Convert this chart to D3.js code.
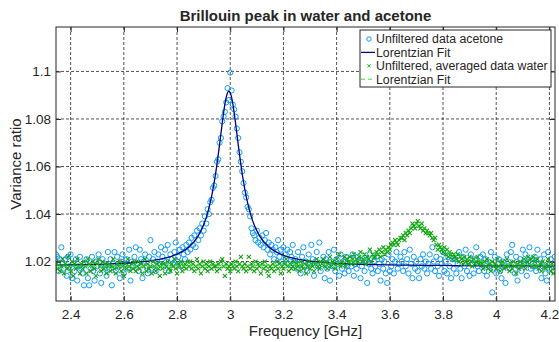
<!DOCTYPE html>
<html>
<head>
<meta charset="utf-8">
<script src="https://cdn.jsdelivr.net/npm/d3@7"></script>
<style>
  body { margin: 0; background: #fff; }
  text { font-family: "Liberation Sans", Arial, Helvetica, sans-serif; fill: #262626; }
</style>
</head>
<body>
<div id="chart"></div>
<script>
// sample frequencies in GHz (same grid for both measurements)
const freqGHz = [
  2.345,2.350,2.355,2.360,2.365,2.370,2.375,2.380,2.385,2.390,2.395,2.400,2.405,2.410,2.415,2.420,2.425,2.430,2.435,2.440,
  2.445,2.450,2.455,2.460,2.465,2.470,2.475,2.480,2.485,2.490,2.495,2.500,2.505,2.510,2.515,2.520,2.525,2.530,2.535,2.540,
  2.545,2.550,2.555,2.560,2.565,2.570,2.575,2.580,2.585,2.590,2.595,2.600,2.605,2.610,2.615,2.620,2.625,2.630,2.635,2.640,
  2.645,2.650,2.655,2.660,2.665,2.670,2.675,2.680,2.685,2.690,2.695,2.700,2.705,2.710,2.715,2.720,2.725,2.730,2.735,2.740,
  2.745,2.750,2.755,2.760,2.765,2.770,2.775,2.780,2.785,2.790,2.795,2.800,2.805,2.810,2.815,2.820,2.825,2.830,2.835,2.840,
  2.845,2.850,2.855,2.860,2.865,2.870,2.875,2.880,2.885,2.890,2.895,2.900,2.905,2.910,2.915,2.920,2.925,2.930,2.935,2.940,
  2.945,2.950,2.955,2.960,2.965,2.970,2.975,2.980,2.985,2.990,2.995,3.000,3.005,3.010,3.015,3.020,3.025,3.030,3.035,3.040,
  3.045,3.050,3.055,3.060,3.065,3.070,3.075,3.080,3.085,3.090,3.095,3.100,3.105,3.110,3.115,3.120,3.125,3.130,3.135,3.140,
  3.145,3.150,3.155,3.160,3.165,3.170,3.175,3.180,3.185,3.190,3.195,3.200,3.205,3.210,3.215,3.220,3.225,3.230,3.235,3.240,
  3.245,3.250,3.255,3.260,3.265,3.270,3.275,3.280,3.285,3.290,3.295,3.300,3.305,3.310,3.315,3.320,3.325,3.330,3.335,3.340,
  3.345,3.350,3.355,3.360,3.365,3.370,3.375,3.380,3.385,3.390,3.395,3.400,3.405,3.410,3.415,3.420,3.425,3.430,3.435,3.440,
  3.445,3.450,3.455,3.460,3.465,3.470,3.475,3.480,3.485,3.490,3.495,3.500,3.505,3.510,3.515,3.520,3.525,3.530,3.535,3.540,
  3.545,3.550,3.555,3.560,3.565,3.570,3.575,3.580,3.585,3.590,3.595,3.600,3.605,3.610,3.615,3.620,3.625,3.630,3.635,3.640,
  3.645,3.650,3.655,3.660,3.665,3.670,3.675,3.680,3.685,3.690,3.695,3.700,3.705,3.710,3.715,3.720,3.725,3.730,3.735,3.740,
  3.745,3.750,3.755,3.760,3.765,3.770,3.775,3.780,3.785,3.790,3.795,3.800,3.805,3.810,3.815,3.820,3.825,3.830,3.835,3.840,
  3.845,3.850,3.855,3.860,3.865,3.870,3.875,3.880,3.885,3.890,3.895,3.900,3.905,3.910,3.915,3.920,3.925,3.930,3.935,3.940,
  3.945,3.950,3.955,3.960,3.965,3.970,3.975,3.980,3.985,3.990,3.995,4.000,4.005,4.010,4.015,4.020,4.025,4.030,4.035,4.040,
  4.045,4.050,4.055,4.060,4.065,4.070,4.075,4.080,4.085,4.090,4.095,4.100,4.105,4.110,4.115,4.120,4.125,4.130,4.135,4.140,
  4.145,4.150,4.155,4.160,4.165,4.170,4.175,4.180,4.185,4.190,4.195,4.200,4.205,4.210,4.215,4.220
];

// variance ratio, acetone (unfiltered)
const acetoneRatio = [
  1.023,1.022,1.016,1.021,1.026,1.019,1.017,1.021,1.014,1.022,1.018,1.023,1.013,1.019,1.016,1.021,1.012,1.018,1.022,1.017,
  1.015,1.010,1.019,1.021,1.013,1.010,1.017,1.022,1.016,1.012,1.020,1.018,1.023,1.015,1.011,1.021,1.019,1.017,1.014,1.024,
  1.017,1.021,1.010,1.019,1.024,1.016,1.022,1.018,1.013,1.020,1.023,1.015,1.019,1.021,1.017,1.025,1.012,1.020,1.018,1.022,
  1.026,1.019,1.016,1.025,1.021,1.013,1.020,1.023,1.018,1.015,1.022,1.029,1.017,1.021,1.024,1.016,1.020,1.023,1.019,1.026,
  1.022,1.018,1.025,1.020,1.027,1.016,1.023,1.021,1.019,1.024,1.028,1.020,1.022,1.025,1.018,1.026,1.023,1.021,1.027,1.024,
  1.028,1.025,1.030,1.027,1.031,1.026,1.033,1.029,1.034,1.031,1.036,1.033,1.039,1.036,1.042,1.040,1.045,1.046,1.051,1.052,
  1.056,1.062,1.063,1.070,1.072,1.079,1.081,1.083,1.087,1.093,1.088,1.0995,1.092,1.086,1.084,1.081,1.076,1.072,1.066,1.062,
  1.058,1.053,1.049,1.047,1.043,1.042,1.039,1.034,1.032,1.031,1.029,1.033,1.028,1.030,1.027,1.031,1.026,1.029,1.032,1.025,
  1.028,1.023,1.027,1.025,1.021,1.026,1.024,1.029,1.022,1.025,1.020,1.026,1.023,1.021,1.025,1.019,1.024,1.022,1.027,1.020,
  1.021,1.017,1.024,1.019,1.015,1.022,1.026,1.018,1.020,1.016,1.023,1.019,1.027,1.021,1.014,1.020,1.024,1.018,1.028,1.016,
  1.019,1.022,1.013,1.021,1.017,1.024,1.012,1.020,1.018,1.025,1.016,1.021,1.019,1.014,1.023,1.017,1.020,1.015,1.022,1.018,
  1.016,1.021,1.018,1.023,1.014,1.019,1.017,1.022,1.020,1.013,1.018,1.021,1.016,1.020,1.011,1.019,1.023,1.017,1.015,1.020,
  1.018,1.022,1.016,1.019,1.012,1.021,1.017,1.020,1.015,1.011,1.023,1.016,1.018,1.021,1.015,1.020,1.024,1.017,1.019,1.022,
  1.020,1.016,1.024,1.018,1.021,1.015,1.025,1.019,1.013,1.022,1.017,1.020,1.016,1.013,1.021,1.018,1.023,1.017,1.020,1.015,
  1.019,1.023,1.017,1.026,1.020,1.016,1.022,1.018,1.014,1.021,1.019,1.024,1.016,1.020,1.015,1.022,1.018,1.013,1.021,1.017,
  1.021,1.015,1.019,1.024,1.017,1.013,1.022,1.018,1.025,1.016,1.020,1.014,1.023,1.019,1.015,1.021,1.026,1.018,1.016,1.022,
  1.019,1.023,1.016,1.021,1.014,1.020,1.018,1.024,1.007,1.017,1.022,1.015,1.019,1.021,1.016,1.013,1.020,1.018,1.011,1.023,
  1.020,1.017,1.024,1.027,1.019,1.015,1.022,1.012,1.018,1.021,1.016,1.025,1.019,1.023,1.014,1.020,1.026,1.017,1.021,1.018,
  1.022,1.016,1.025,1.019,1.021,1.013,1.018,1.023,1.015,1.012,1.024,1.017,1.021,1.019,1.016,1.022
];

// variance ratio, water (unfiltered, averaged)
const waterRatio = [
  1.019,1.017,1.020,1.016,1.018,1.021,1.015,1.019,1.017,1.022,1.018,1.016,1.020,1.014,1.019,1.017,1.021,1.018,1.015,1.019,
  1.017,1.020,1.018,1.015,1.021,1.019,1.016,1.018,1.020,1.017,1.014,1.019,1.021,1.018,1.016,1.020,1.017,1.019,1.015,1.018,
  1.019,1.016,1.018,1.021,1.017,1.015,1.019,1.018,1.020,1.016,1.018,1.014,1.019,1.017,1.021,1.018,1.016,1.019,1.017,1.020,
  1.016,1.018,1.020,1.017,1.019,1.015,1.018,1.021,1.016,1.019,1.017,1.018,1.015,1.020,1.018,1.016,1.019,1.017,1.014,1.019,
  1.017,1.019,1.015,1.018,1.020,1.017,1.016,1.019,1.018,1.021,1.017,1.015,1.019,1.018,1.020,1.016,1.018,1.019,1.017,1.020,
  1.018,1.020,1.017,1.019,1.016,1.018,1.021,1.017,1.019,1.015,1.018,1.020,1.017,1.019,1.016,1.018,1.020,1.017,1.019,1.018,
  1.018,1.016,1.019,1.017,1.020,1.021,1.018,1.014,1.019,1.017,1.018,1.016,1.019,1.018,1.017,1.020,1.018,1.016,1.019,1.022,
  1.018,1.017,1.019,1.016,1.018,1.022,1.017,1.019,1.018,1.016,1.020,1.017,1.019,1.018,1.015,1.019,1.017,1.020,1.018,1.016,
  1.014,1.018,1.017,1.019,1.016,1.018,1.020,1.017,1.019,1.015,1.018,1.017,1.019,1.021,1.018,1.016,1.019,1.017,1.018,1.020,
  1.017,1.019,1.018,1.016,1.020,1.018,1.017,1.019,1.015,1.018,1.020,1.017,1.019,1.018,1.016,1.019,1.021,1.018,1.017,1.020,
  1.019,1.021,1.018,1.020,1.017,1.019,1.022,1.018,1.020,1.019,1.017,1.021,1.019,1.023,1.018,1.020,1.019,1.022,1.018,1.021,
  1.020,1.022,1.019,1.021,1.023,1.019,1.021,1.020,1.022,1.024,1.020,1.021,1.023,1.019,1.022,1.021,1.025,1.020,1.023,1.022,
  1.022,1.024,1.023,1.025,1.022,1.024,1.026,1.023,1.025,1.024,1.026,1.025,1.027,1.028,1.027,1.029,1.028,1.027,1.029,1.030,
  1.030,1.031,1.029,1.032,1.031,1.033,1.032,1.034,1.036,1.035,1.034,1.036,1.037,1.035,1.034,1.036,1.033,1.034,1.032,1.033,
  1.032,1.031,1.032,1.030,1.029,1.030,1.027,1.025,1.027,1.026,1.025,1.024,1.026,1.023,1.025,1.022,1.024,1.023,1.021,1.023,
  1.022,1.021,1.023,1.020,1.022,1.021,1.019,1.022,1.020,1.021,1.019,1.022,1.020,1.018,1.021,1.019,1.020,1.022,1.019,1.020,
  1.019,1.017,1.020,1.018,1.021,1.017,1.019,1.016,1.020,1.018,1.019,1.017,1.021,1.018,1.016,1.019,1.020,1.017,1.018,1.021,
  1.018,1.016,1.019,1.017,1.020,1.018,1.015,1.019,1.017,1.020,1.018,1.019,1.021,1.017,1.020,1.022,1.019,1.021,1.018,1.022,
  1.020,1.018,1.021,1.017,1.019,1.016,1.020,1.018,1.017,1.019,1.021,1.018,1.016,1.019,1.015,1.017
];

// Lorentzian fit curves
const acetoneFitFreq = [2.345,2.45,2.55,2.65,2.7,2.75,2.8,2.83,2.86,2.88,2.89,2.9,2.91,2.92,2.93,2.94,2.95,2.96,2.97,2.98,2.985,2.99,2.995,
  3.0,3.005,3.01,3.02,3.03,3.04,3.05,3.06,3.07,3.08,3.09,3.1,3.11,3.13,3.16,3.19,3.24,3.29,3.34,3.44,3.54,3.64,3.74,3.84,3.99,4.221];
const acetoneFitRatio = [1.0185,1.0187,1.0190,1.0197,1.0203,1.0213,1.0231,1.0249,1.0278,1.0309,1.0330,1.0355,1.0386,1.0426,1.0474,1.0535,1.0608,1.0693,1.0783,1.0862,1.0892,1.0910,1.0917,
  1.0910,1.0892,1.0862,1.0783,1.0693,1.0608,1.0535,1.0474,1.0426,1.0386,1.0355,1.0330,1.0309,1.0278,1.0249,1.0231,1.0213,1.0203,1.0197,1.0190,1.0187,1.0185,1.0184,1.0183,1.0182,1.0182];
const waterFitFreq = [2.345,2.7,3.0,3.2,3.3,3.4,3.45,3.5,3.52,3.54,3.56,3.58,3.6,3.62,3.64,3.66,3.68,3.7,3.72,3.74,3.76,3.78,3.8,3.82,3.84,3.86,3.88,3.9,3.95,4.0,4.1,4.221];
const waterFitRatio = [1.0181,1.0181,1.0183,1.0186,1.0188,1.0195,1.0200,1.0209,1.0215,1.0222,1.0231,1.0243,1.0258,1.0278,1.0301,1.0326,1.0347,1.0355,1.0347,1.0326,1.0301,1.0278,1.0258,1.0243,1.0231,1.0222,1.0215,1.0209,1.0200,1.0195,1.0188,1.0185];

const xTicks = [2.4, 2.6, 2.8, 3, 3.2, 3.4, 3.6, 3.8, 4, 4.2];
const yTicks = [1.02, 1.04, 1.06, 1.08, 1.1];
const legendLabels = ["Unfiltered data acetone", "Lorentzian Fit", "Unfiltered, averaged data water", "Lorentzian Fit"];

let width = 559;
let height = 342;
let margin = { top: 27, right: 4, bottom: 41, left: 56 };

let acetoneColor = "#119df5";
let acetoneFitColor = "#000080";
let waterColor = "#10a410";
let waterFitColor = "#33e033";

let svg = d3.select("#chart").append("svg").attr("width", width).attr("height", height);
svg.append("rect").attr("width", width).attr("height", height).attr("fill", "#fff");

let xScale = d3.scaleLinear().domain([2.345, 4.221]).range([margin.left, width - margin.right]);
let yScale = d3.scaleLinear().domain([1.0034, 1.1187]).range([height - margin.bottom, margin.top]);

let plotW = width - margin.left - margin.right;
let plotH = height - margin.top - margin.bottom;

svg.append("clipPath").attr("id", "plot-clip")
  .append("rect")
  .attr("x", margin.left).attr("y", margin.top)
  .attr("width", plotW).attr("height", plotH);

// dashed grid
let grid = svg.append("g").attr("stroke", "#262626").attr("stroke-dasharray", "3,2").attr("stroke-width", 0.8);
grid.selectAll(".vgrid").data(xTicks).enter().append("line")
  .attr("x1", d => xScale(d)).attr("x2", d => xScale(d))
  .attr("y1", margin.top).attr("y2", height - margin.bottom);
grid.selectAll(".hgrid").data(yTicks).enter().append("line")
  .attr("y1", d => yScale(d)).attr("y2", d => yScale(d))
  .attr("x1", margin.left).attr("x2", width - margin.right);

// data + fits
let plot = svg.append("g").attr("clip-path", "url(#plot-clip)");

let acetonePts = freqGHz.map((f, i) => [f, acetoneRatio[i]]).filter(d => d[1] !== undefined);
let waterPts = freqGHz.map((f, i) => [f, waterRatio[i]]).filter(d => d[1] !== undefined);

plot.selectAll(".acetone").data(acetonePts).enter().append("circle")
  .attr("class", "acetone")
  .attr("cx", d => xScale(d[0]))
  .attr("cy", d => yScale(d[1]))
  .attr("r", 2.6)
  .attr("fill", "none")
  .attr("stroke", acetoneColor)
  .attr("stroke-width", 1);

let line = d3.line().x(d => xScale(d[0])).y(d => yScale(d[1])).curve(d3.curveMonotoneX);

plot.append("path")
  .datum(acetoneFitFreq.map((f, i) => [f, acetoneFitRatio[i]]))
  .attr("d", line)
  .attr("fill", "none")
  .attr("stroke", acetoneFitColor)
  .attr("stroke-width", 1.3);

let xMark = "M-2,-2L2,2M-2,2L2,-2";

plot.selectAll(".water").data(waterPts).enter().append("path")
  .attr("class", "water")
  .attr("transform", d => "translate(" + xScale(d[0]) + "," + yScale(d[1]) + ")")
  .attr("d", xMark)
  .attr("stroke", waterColor)
  .attr("stroke-width", 1.1);

plot.append("path")
  .datum(waterFitFreq.map((f, i) => [f, waterFitRatio[i]]))
  .attr("d", line)
  .attr("fill", "none")
  .attr("stroke", waterFitColor)
  .attr("stroke-width", 1)
  .attr("stroke-dasharray", "4,3");

// axes, ticks pointing inward on all four sides
let fmt = d => String(d);
svg.append("g")
  .attr("transform", "translate(0," + (height - margin.bottom) + ")")
  .call(d3.axisBottom(xScale).tickValues(xTicks).tickFormat(fmt).tickSizeInner(-5).tickSizeOuter(0).tickPadding(8))
  .call(g => g.select(".domain").remove());
svg.append("g")
  .attr("transform", "translate(0," + margin.top + ")")
  .call(d3.axisTop(xScale).tickValues(xTicks).tickFormat("").tickSizeInner(-5).tickSizeOuter(0))
  .call(g => g.select(".domain").remove());
svg.append("g")
  .attr("transform", "translate(" + margin.left + ",0)")
  .call(d3.axisLeft(yScale).tickValues(yTicks).tickFormat(fmt).tickSizeInner(-5).tickSizeOuter(0).tickPadding(5))
  .call(g => g.select(".domain").remove());
svg.append("g")
  .attr("transform", "translate(" + (width - margin.right) + ",0)")
  .call(d3.axisRight(yScale).tickValues(yTicks).tickFormat("").tickSizeInner(-5).tickSizeOuter(0))
  .call(g => g.select(".domain").remove());

svg.selectAll(".tick line").attr("stroke", "#262626");
svg.selectAll(".tick text").attr("font-size", "13.5px").attr("fill", "#262626")
  .attr("font-family", "'Liberation Sans', Arial, sans-serif");

svg.append("rect")
  .attr("x", margin.left).attr("y", margin.top)
  .attr("width", plotW).attr("height", plotH)
  .attr("fill", "none").attr("stroke", "#262626").attr("stroke-width", 1);

// labels
svg.append("text")
  .attr("x", margin.left + plotW / 2).attr("y", 21)
  .attr("text-anchor", "middle")
  .attr("font-size", "15px").attr("font-weight", "bold").attr("fill", "#000")
  .text("Brillouin peak in water and acetone");

svg.append("text")
  .attr("x", margin.left + plotW / 2).attr("y", 336)
  .attr("text-anchor", "middle")
  .attr("font-size", "15px")
  .text("Frequency [GHz]");

svg.append("text")
  .attr("transform", "translate(21," + (margin.top + plotH / 2) + ") rotate(-90)")
  .attr("text-anchor", "middle")
  .attr("font-size", "15px")
  .text("Variance ratio");

// legend
let legend = svg.append("g").attr("transform", "translate(360,30)");
legend.append("rect")
  .attr("width", 191).attr("height", 57)
  .attr("fill", "#fff").attr("stroke", "#262626").attr("stroke-width", 1);

let rowY = i => 9 + i * 13.4;

legend.append("circle").attr("cx", 9).attr("cy", rowY(0)).attr("r", 2.2)
  .attr("fill", "none").attr("stroke", acetoneColor).attr("stroke-width", 1);
legend.append("line").attr("x1", 1).attr("x2", 15).attr("y1", rowY(1)).attr("y2", rowY(1))
  .attr("stroke", acetoneFitColor).attr("stroke-width", 1.3);
legend.append("path").attr("transform", "translate(9," + rowY(2) + ") scale(0.8)").attr("d", xMark)
  .attr("stroke", waterColor).attr("stroke-width", 1.2);
legend.append("line").attr("x1", 1).attr("x2", 15).attr("y1", rowY(3)).attr("y2", rowY(3))
  .attr("stroke", waterFitColor).attr("stroke-width", 1).attr("stroke-dasharray", "4,3");

legend.selectAll(".leg-text").data(legendLabels).enter().append("text")
  .attr("x", 16).attr("y", (d, i) => rowY(i)).attr("dy", "0.36em")
  .attr("font-size", "12.3px").attr("fill", "#000")
  .text(d => d);
</script>
</body>
</html>
